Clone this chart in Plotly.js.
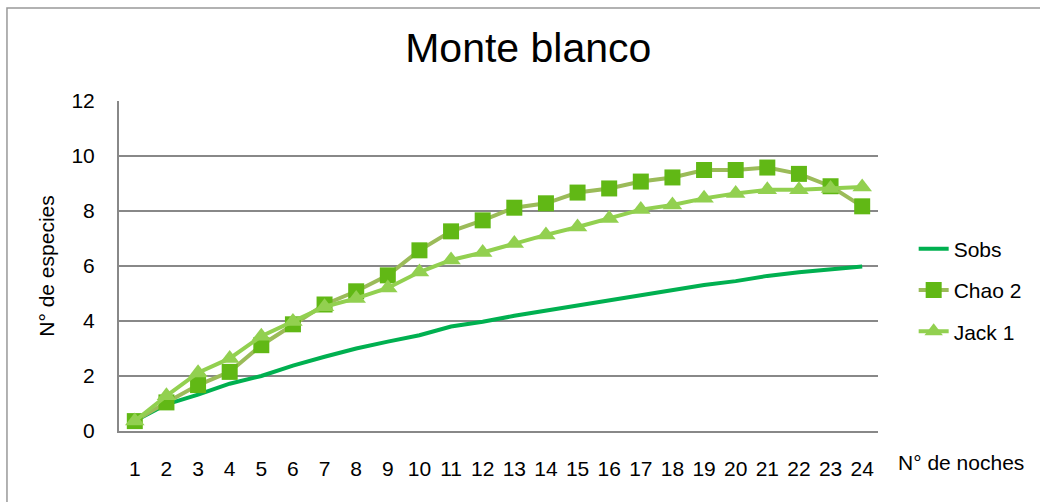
<!DOCTYPE html>
<html>
<head>
<meta charset="utf-8">
<script src="https://cdn.plot.ly/plotly-3.0.1.min.js"></script>
<style>html,body{margin:0;padding:0;background:#fff;}#chart{width:1040px;height:502px;}</style>
</head>
<body>
<div id="chart"></div>
<script>
const nights = [1,2,3,4,5,6,7,8,9,10,11,12,13,14,15,16,17,18,19,20,21,22,23,24];
const sobs  = [0.36,0.97,1.32,1.72,2.0,2.38,2.7,3.0,3.25,3.48,3.8,3.97,4.19,4.38,4.57,4.75,4.94,5.13,5.31,5.45,5.64,5.77,5.88,5.98];
const chao2 = [0.36,1.04,1.67,2.15,3.12,3.88,4.6,5.08,5.66,6.57,7.26,7.66,8.12,8.28,8.67,8.82,9.07,9.22,9.49,9.49,9.58,9.35,8.9,8.17];
const jack1 = [0.36,1.28,2.12,2.64,3.45,3.98,4.52,4.82,5.2,5.78,6.22,6.49,6.82,7.13,7.42,7.73,8.05,8.22,8.46,8.64,8.77,8.77,8.82,8.87];
const seriesNames = ["Sobs","Chao 2","Jack 1"];
const yTicks = [0,2,4,6,8,10,12];

const font = "Liberation Sans, Arial, sans-serif";
const traces = [
  {x: nights, y: sobs, name: seriesNames[0], mode: "lines", legendgroup: "a",
   line: {color: "#00B050", width: 4}},
  {x: nights, y: chao2, name: seriesNames[1], mode: "lines+markers", legendgroup: "b",
   line: {color: "#9BBB59", width: 4},
   marker: {symbol: "square", size: 16, color: "#61B815"}},
  {x: nights, y: jack1, name: seriesNames[2], mode: "lines+markers", legendgroup: "c",
   line: {color: "#92D050", width: 4},
   marker: {symbol: "triangle-up", size: 17, color: "#92D050"}}
];

const layout = {
  width: 1040, height: 502,
  margin: {l: 119, r: 162, t: 101, b: 71},
  paper_bgcolor: "#fff", plot_bgcolor: "#fff",
  font: {family: font, size: 21, color: "#000"},
  title: {text: "Monte blanco", font: {family: font, size: 41, color: "#000"},
          x: 0.508, xref: "container", xanchor: "center", y: 0.906, yref: "container", yanchor: "middle"},
  xaxis: {range: [0.5, 24.5], tickvals: nights, ticktext: nights.map(String), showgrid: false, zeroline: false,
          showline: true, linecolor: "#888", linewidth: 2, ticks: "", ticklabelstandoff: 18, fixedrange: true},
  yaxis: {range: [0, 12], tickvals: yTicks, showgrid: true, gridcolor: "#888", gridwidth: 2, zeroline: false,
          showline: true, linecolor: "#888", linewidth: 2, ticks: "", ticklabelstandoff: 18,
          title: {text: "N° de especies", font: {size: 21}, standoff: 11}},
  showlegend: true,
  legend: {x: 1.047, xanchor: "left", y: 0.427, yanchor: "middle", traceorder: "grouped", tracegroupgap: 11,
           font: {size: 21}, bgcolor: "rgba(0,0,0,0)"},
  annotations: [{text: "N° de noches", xref: "paper", yref: "paper", x: 1.109, y: -0.095, xanchor: "center", yanchor: "middle",
                 showarrow: false, font: {size: 21}}],
  shapes: [{type: "rect", xref: "paper", yref: "paper", x0: -0.1476, x1: 1.3, y0: -0.3, y1: 1.2818,
            line: {color: "#999", width: 1.5}, fillcolor: "rgba(0,0,0,0)", layer: "below"}]
};

Plotly.newPlot("chart", traces, layout, {displayModeBar: false, staticPlot: true});
</script>
</body>
</html>
